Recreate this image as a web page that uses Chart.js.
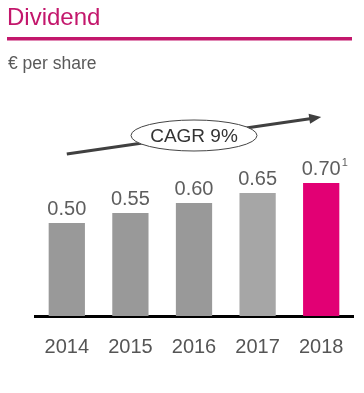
<!DOCTYPE html>
<html>
<head>
<meta charset="utf-8">
<script src="https://cdn.jsdelivr.net/npm/chart.js@4/dist/chart.umd.min.js"></script>
<style>
  html, body { margin: 0; padding: 0; background: #fff; }
  #wrap { width: 364px; height: 393px; position: relative; }
</style>
</head>
<body>
<div id="wrap"><canvas id="dividend"></canvas></div>
<script>
var years = ['2014', '2015', '2016', '2017', '2018'];
var dividend = [0.50, 0.55, 0.60, 0.65, 0.70];
var footnotes = ['', '', '', '', '1'];
var barColors = ['#999999', '#999999', '#999999', '#a6a6a6', '#e20074'];
var cagrText = 'CAGR 9%';

var magenta = '#c3176c';
var fontName = '"Liberation Sans", Arial, sans-serif';

// header, rule under it and the CAGR arrow
var decorations = {
	id: 'decorations',
	beforeDatasetsDraw: function (chart) {
		var ctx = chart.ctx;
		var x = chart.scales.x;
		var y = chart.scales.y;
		ctx.save();

		ctx.fillStyle = magenta;
		ctx.font = '24px ' + fontName;
		ctx.textBaseline = 'alphabetic';
		ctx.fillText('Dividend', 7, 25);
		ctx.fillRect(7, 37, 345, 3.5);

		ctx.fillStyle = '#595959';
		ctx.font = '17.5px ' + fontName;
		ctx.fillText('€ per share', 8, 69);

		// arrow, anchored on first and last category
		var x0 = x.getPixelForValue(0), y0 = y.getPixelForValue(0.845);
		var x1 = x.getPixelForValue(years.length - 1), y1 = y.getPixelForValue(1.03);
		var ang = Math.atan2(y1 - y0, x1 - x0);
		ctx.strokeStyle = '#404040';
		ctx.fillStyle = '#404040';
		ctx.lineWidth = 3;
		ctx.beginPath();
		ctx.moveTo(x0, y0);
		ctx.lineTo(x1 - 8 * Math.cos(ang), y1 - 8 * Math.sin(ang));
		ctx.stroke();
		ctx.beginPath();
		ctx.moveTo(x1, y1);
		ctx.lineTo(x1 - 12 * Math.cos(ang) + 5 * Math.sin(ang), y1 - 12 * Math.sin(ang) - 5 * Math.cos(ang));
		ctx.lineTo(x1 - 12 * Math.cos(ang) - 5 * Math.sin(ang), y1 - 12 * Math.sin(ang) + 5 * Math.cos(ang));
		ctx.closePath();
		ctx.fill();

		// ellipse with the CAGR text, over the middle category
		var cx = x.getPixelForValue(2);
		var cy = y0 + (y1 - y0) * (cx - x0) / (x1 - x0);
		ctx.beginPath();
		ctx.ellipse(cx, cy, 63, 15.5, 0, 0, Math.PI * 2);
		ctx.fillStyle = '#ffffff';
		ctx.fill();
		ctx.lineWidth = 1;
		ctx.strokeStyle = '#444444';
		ctx.stroke();
		ctx.fillStyle = '#333333';
		ctx.font = '19px ' + fontName;
		ctx.textAlign = 'center';
		ctx.textBaseline = 'middle';
		ctx.fillText(cagrText, cx, cy + 1);

		ctx.restore();
	},
	afterDatasetsDraw: function (chart) {
		var ctx = chart.ctx;
		var meta = chart.getDatasetMeta(0);
		ctx.save();
		ctx.fillStyle = '#5e5e5e';
		ctx.textBaseline = 'alphabetic';
		for (var i = 0; i < meta.data.length; i++) {
			var bar = meta.data[i];
			var txt = dividend[i].toFixed(2);
			ctx.font = '20px ' + fontName;
			var w = ctx.measureText(txt).width;
			ctx.textAlign = 'center';
			ctx.fillText(txt, bar.x, bar.y - 8);
			if (footnotes[i]) {
				ctx.font = '11px ' + fontName;
				ctx.textAlign = 'left';
				ctx.fillText(footnotes[i], bar.x + w / 2 + 1, bar.y - 17);
			}
		}
		ctx.restore();
	}
};

new Chart(document.getElementById('dividend'), {
	type: 'bar',
	data: {
		labels: years,
		datasets: [{
			data: dividend,
			backgroundColor: barColors,
			borderWidth: 0,
			barPercentage: 0.57,
			categoryPercentage: 1.0
		}]
	},
	options: {
		responsive: true,
		maintainAspectRatio: false,
		animation: false,
		layout: { padding: { left: 35, right: 11, top: 103, bottom: 23 } },
		plugins: { legend: { display: false }, tooltip: { enabled: false } },
		scales: {
			x: {
				grid: { display: false },
				border: { display: true, color: '#000000', width: 3 },
				ticks: { color: '#555555', font: { family: fontName, size: 20 }, padding: 11 }
			},
			y: {
				display: false,
				min: 0.035,
				max: 1.1
			}
		}
	},
	plugins: [decorations]
});
</script>
</body>
</html>
